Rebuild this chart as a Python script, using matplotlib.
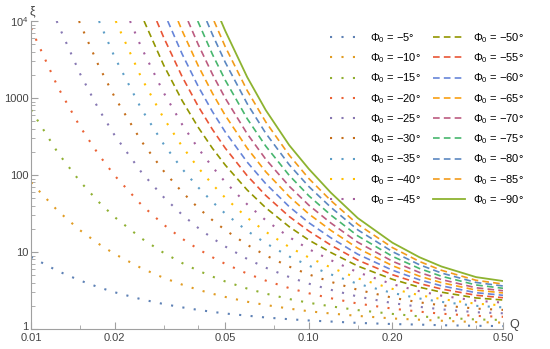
import numpy as np
import matplotlib
matplotlib.use('Agg')
import matplotlib.pyplot as plt
import matplotlib.transforms as mtransforms
from matplotlib.ticker import FixedLocator, NullFormatter, FixedFormatter

plt.rcParams['font.family'] = ['Liberation Sans', 'DejaVu Sans']
plt.rcParams['mathtext.fontset'] = 'custom'
plt.rcParams['mathtext.rm'] = 'Liberation Sans'
plt.rcParams['mathtext.it'] = 'Liberation Sans:italic'

nan = np.nan

# Shared Q grid
Q = [0.01, 0.0125, 0.015, 0.0175, 0.02, 0.025, 0.03, 0.035, 0.04, 0.045, 0.05,
     0.06, 0.07, 0.085, 0.1, 0.12, 0.15, 0.2, 0.25, 0.3, 0.4, 0.5]

phi0 = [-5, -10, -15, -20, -25, -30, -35, -40, -45,
        -50, -55, -60, -65, -70, -75, -80, -85, -90]

# Q where each curve enters the plot from the top (xi = 10^4); None = starts inside at Q = 0.01
q_entry = [None, None, None, None, 0.01237, 0.01489, 0.01757, 0.02018, 0.02272,
           0.02552, 0.02835, 0.03105, 0.03383, 0.03675, 0.03982, 0.0429, 0.04558, 0.0483]

xi_05 = [8.62, 5.65, 4.27, 3.49, 3.00, 2.43, 2.11, 1.91, 1.77, 1.67, 1.59, 1.49, 1.41, 1.34, 1.29, 1.25, 1.20, 1.16, 1.14, 1.12, 1.10, 1.09]
xi_10 = [80.2, 34.1, 19.2, 12.8, 9.43, 6.15, 4.62, 3.77, 3.23, 2.87, 2.61, 2.26, 2.05, 1.84, 1.70, 1.59, 1.48, 1.37, 1.32, 1.28, 1.23, 1.21]
xi_15 = [701, 194, 82.7, 44.9, 28.4, 15.0, 9.77, 7.19, 5.72, 4.79, 4.15, 3.35, 2.88, 2.45, 2.19, 1.97, 1.76, 1.57, 1.46, 1.40, 1.33, 1.31]
xi_20 = [8010, 1380, 427, 185, 98.4, 40.8, 22.7, 14.9, 10.9, 8.54, 7.02, 5.24, 4.25, 3.40, 2.91, 2.51, 2.14, 1.84, 1.68, 1.58, 1.48, 1.44]
xi_25 = [nan, 9140, 2080, 724, 328, 108, 51.7, 30.5, 20.5, 15.1, 11.8, 8.13, 6.25, 4.73, 3.88, 3.23, 2.64, 2.17, 1.94, 1.80, 1.65, 1.60]
xi_30 = [nan, nan, 9380, 2650, 1030, 273, 113, 60.0, 37.4, 25.9, 19.3, 12.4, 9.03, 6.46, 5.11, 4.10, 3.23, 2.55, 2.22, 2.03, 1.84, 1.77]
xi_35 = [nan, nan, nan, nan, 3400, 714, 253, 120, 68.9, 44.7, 31.6, 18.8, 13.0, 8.75, 6.65, 5.12, 3.86, 2.94, 2.49, 2.25, 2.00, 1.91]
xi_40 = [nan, nan, nan, nan, nan, 1810, 550, 235, 124, 75.4, 50.7, 27.9, 18.3, 11.6, 8.48, 6.30, 4.55, 3.32, 2.75, 2.45, 2.13, 2.03]
xi_45 = [nan, nan, nan, nan, nan, 4480, 1180, 453, 221, 127, 81.2, 41.6, 25.8, 15.6, 10.9, 7.83, 5.45, 3.82, 3.10, 2.71, 2.33, 2.20]
xi_50 = [nan, nan, nan, nan, nan, nan, 2690, 924, 415, 222, 135, 63.9, 37.5, 21.3, 14.3, 9.86, 6.57, 4.42, 3.49, 3.01, 2.53, 2.38]
xi_55 = [nan, nan, nan, nan, nan, nan, 6180, 1890, 778, 390, 224, 97.9, 54.2, 28.9, 18.7, 12.3, 7.85, 5.07, 3.90, 3.31, 2.74, 2.55]
xi_60 = [nan, nan, nan, nan, nan, nan, nan, 3720, 1410, 664, 363, 147, 77.0, 38.8, 24.0, 15.3, 9.36, 5.80, 4.36, 3.64, 2.96, 2.74]
xi_65 = [nan, nan, nan, nan, nan, nan, nan, 7470, 2610, 1150, 596, 223, 110, 52.5, 31.2, 19.1, 11.2, 6.64, 4.86, 4.00, 3.20, 2.94]
xi_70 = [nan, nan, nan, nan, nan, nan, nan, nan, 4930, 2030, 996, 343, 160, 71.4, 40.6, 23.8, 13.4, 7.59, 5.43, 4.39, 3.43, 3.14]
xi_75 = [nan, nan, nan, nan, nan, nan, nan, nan, nan, 3680, 1710, 539, 237, 98.9, 53.7, 30.2, 16.2, 8.78, 6.11, 4.85, 3.73, 3.38]
xi_80 = [nan, nan, nan, nan, nan, nan, nan, nan, nan, 6660, 2920, 844, 348, 136, 70.8, 38.1, 19.4, 10.1, 6.84, 5.34, 4.02, 3.62]
xi_85 = [nan, nan, nan, nan, nan, nan, nan, nan, nan, nan, 4650, 1250, 488, 181, 90.0, 46.6, 22.9, 11.4, 7.54, 5.79, 4.29, 3.84]
xi_90 = [nan, nan, nan, nan, nan, nan, nan, nan, nan, nan, 7480, 1870, 695, 244, 120, 59.0, 27.6, 13.2, 8.56, 6.49, 4.72, 4.20]

series = [xi_05, xi_10, xi_15, xi_20, xi_25, xi_30, xi_35, xi_40, xi_45,
          xi_50, xi_55, xi_60, xi_65, xi_70, xi_75, xi_80, xi_85, xi_90]

colors = ['#5E81B5', '#E19C24', '#8FB032', '#EB6235', '#8778B3', '#C56E1A', '#5D9EC7', '#FFBF00', '#A5609D',
          '#929600', '#E95536', '#6685D9', '#F89F13', '#BC5B80', '#47B66D', '#5B87C1', '#F29B1B', '#8DB330']

fig = plt.figure(figsize=(5.5, 3.49), dpi=100)
ax = fig.add_axes([31/550, 20/349, 472/550, 308/349])

Qa = np.array(Q)
for i in range(len(series)):
    y = np.array(series[i], dtype=float)
    m = ~np.isnan(y)
    q = Qa[m]
    v = y[m]
    if q_entry[i] is not None:
        q = np.concatenate([[q_entry[i]], q])
        v = np.concatenate([[1e4], v])
    if i < 9:
        ls, lw = (0, (1, 4.5)), 1.5
    elif i < 17:
        ls, lw = (0, (4, 2.5)), 1.2
    else:
        ls, lw = '-', 1.3
    ax.plot(q, v, color=colors[i], ls=ls, lw=lw,
            label='$\\Phi_0$ = \u2212%d\u00b0' % (-phi0[i]))

ax.set_xscale('log')
ax.set_yscale('log')
ax.set_xlim(0.01, 0.5)
ax.set_ylim(1, 1e4)
for s in ['top', 'right']:
    ax.spines[s].set_visible(False)
for s in ['left', 'bottom']:
    ax.spines[s].set_color('#a0a0a0')
ax.xaxis.set_major_locator(FixedLocator([0.01, 0.02, 0.05, 0.1, 0.2, 0.5]))
ax.xaxis.set_major_formatter(FixedFormatter(['0.01', '0.02', '0.05', '0.10', '0.20', '0.50']))
ax.xaxis.set_minor_locator(FixedLocator([0.015, 0.03, 0.04, 0.075, 0.15, 0.3, 0.4]))
ax.xaxis.set_minor_formatter(NullFormatter())
ax.yaxis.set_major_locator(FixedLocator([1, 10, 100, 1000, 1e4]))
ax.yaxis.set_major_formatter(FixedFormatter(['1', '10', '100', '1000', '$10^4$']))
ax.yaxis.set_minor_locator(FixedLocator([m*10**k for k in range(4) for m in range(2, 10)]))
ax.yaxis.set_minor_formatter(NullFormatter())
ax.tick_params(which='both', direction='in', color='#a0a0a0', labelcolor='#444444', labelsize=8)
ax.tick_params(axis='y', pad=2)
ax.tick_params(axis='x', pad=3)
ax.tick_params(which='major', length=5)
ax.tick_params(which='minor', length=3)

fig.canvas.draw()
ylabs = ax.yaxis.get_majorticklabels()
ylabs[0].set_transform(ylabs[0].get_transform() + mtransforms.ScaledTranslation(0, 3/100, fig.dpi_scale_trans))

fig.text(32/550, 1-11/349, '\u03be', fontsize=9, color='#444444', ha='center', va='center')
fig.text(514/550, 1-325/349, 'Q', fontsize=9, color='#444444', ha='center', va='center')

ax.legend(loc='upper left', bbox_to_anchor=(330/550, 1-31/349), bbox_transform=fig.transFigure,
          ncol=2, frameon=False, fontsize=8, handlelength=2.9, handletextpad=0.7, labelspacing=0.58,
          columnspacing=1.1, borderpad=0, borderaxespad=0)
fig.savefig('out.png', dpi=100)
